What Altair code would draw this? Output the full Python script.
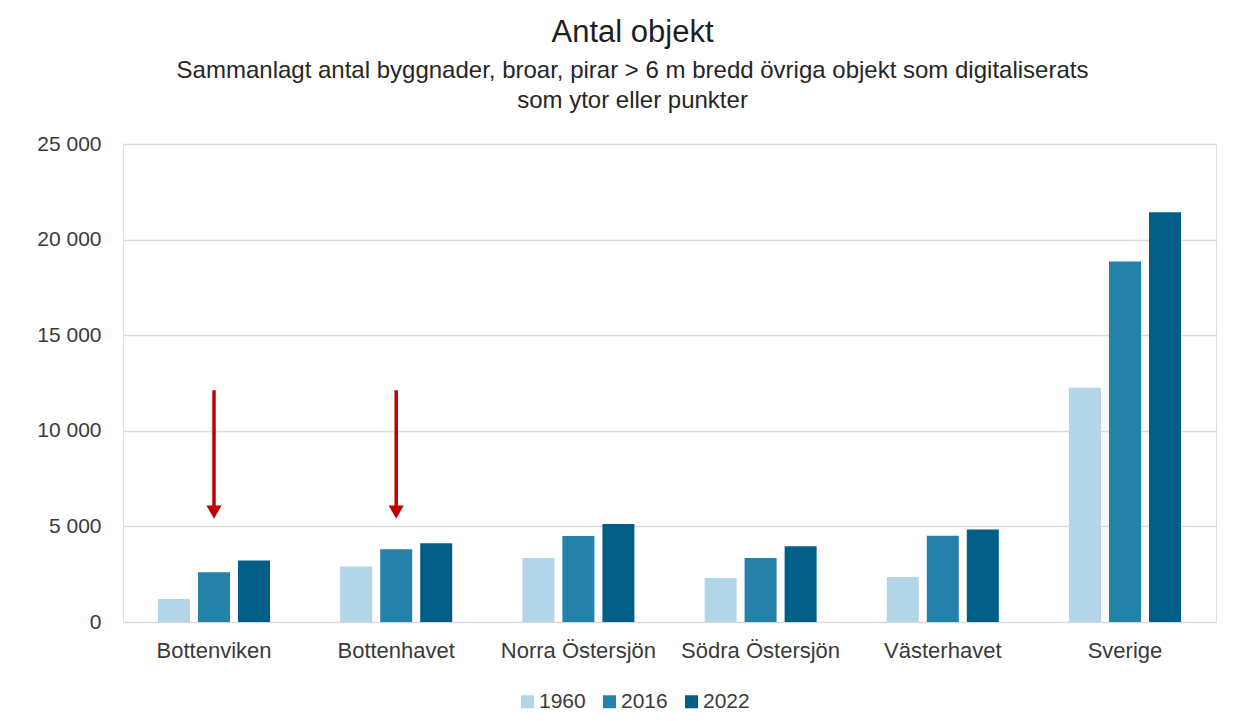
import altair as alt
import pandas as pd

categories = ["Bottenviken", "Bottenhavet", "Norra Östersjön", "Södra Östersjön", "Västerhavet", "Sverige"]
years = ["1960", "2016", "2022"]
v1960 = [1200, 2900, 3350, 2300, 2360, 12250]
v2016 = [2600, 3800, 4500, 3350, 4510, 18850]
v2022 = [3220, 4120, 5120, 3960, 4840, 21430]
colors = ["#b3d5e8", "#2381aa", "#015f87"]

arrow_cats = ["Bottenviken", "Bottenhavet"]
arrow_top = [12120, 12120]
arrow_shaft_end = [6000, 6000]
arrow_head = [5750, 5750]

rows = []
for i, c in enumerate(categories):
    for y, vals in zip(years, [v1960, v2016, v2022]):
        rows.append({"Område": c, "År": y, "Antal": vals[i]})
df = pd.DataFrame(rows)

arr = pd.DataFrame({"Område": arrow_cats, "År": ["2016"] * len(arrow_cats),
                    "top": arrow_top, "end": arrow_shaft_end, "head": arrow_head})

FONT = "Liberation Sans"
TXT = "#3a3a3a"

xenc = alt.X("Område:N", sort=categories, title=None,
             scale=alt.Scale(paddingInner=0.385, paddingOuter=0.192),
             axis=alt.Axis(labelAngle=0, labelFontSize=22, labelColor=TXT, labelFont=FONT,
                           labelPadding=18, ticks=False, domain=False, grid=False))
xoff = alt.XOffset("År:N", sort=years, scale=alt.Scale(paddingInner=0.2, paddingOuter=0))

bars = alt.Chart(df).mark_bar().encode(
    x=xenc,
    xOffset=xoff,
    y=alt.Y("Antal:Q", title=None,
            scale=alt.Scale(domain=[0, 25000], padding=0, nice=False, zero=True),
            axis=alt.Axis(values=[0, 5000, 10000, 15000, 20000, 25000],
                          labelExpr="replace(format(datum.value, ','), ',', ' ')",
                          labelFontSize=21, labelColor=TXT, labelFont=FONT,
                          labelPadding=22, ticks=False, domain=False,
                          gridColor="#d9d9d9", gridWidth=1.5)),
    color=alt.Color("År:N", sort=years, scale=alt.Scale(domain=years, range=colors),
                    legend=alt.Legend(title=None, orient="none", direction="horizontal",
                                      legendX=394, legendY=547, symbolType="square",
                                      symbolSize=169, symbolStrokeWidth=0, labelFontSize=21,
                                      labelFont=FONT, labelColor=TXT,
                                      columnPadding=13, labelOffset=1)),
)

shaft = alt.Chart(arr).mark_rule(color="#c00000", strokeWidth=3.5).encode(
    x=alt.X("Område:N", sort=categories),
    xOffset=alt.XOffset("År:N", sort=years),
    y="top:Q",
    y2="end:Q",
)
head = alt.Chart(arr).mark_point(shape="triangle-down", filled=True, color="#c00000",
                                 size=230, opacity=1).encode(
    x=alt.X("Område:N", sort=categories),
    xOffset=alt.XOffset("År:N", sort=years),
    y="head:Q",
)

chart = alt.layer(bars, shaft, head).properties(
    width=1093, height=478,
    padding={"left": 115, "top": 136, "right": 10, "bottom": 91},
    autosize=alt.AutoSizeParams(type="none"),
    title=alt.TitleParams(
        "Antal objekt",
        subtitle=["Sammanlagt antal byggnader, broar, pirar > 6 m bredd övriga objekt som digitaliserats",
                  "som ytor eller punkter"],
        anchor="middle", dx=-37, fontSize=31, font=FONT, fontWeight="normal", color="#1f1f1f",
        subtitleFontSize=24, subtitleFont=FONT, subtitleColor="#262626",
        subtitlePadding=10, subtitleLineHeight=30, offset=19,
    ),
).configure_view(stroke="#d9d9d9", strokeWidth=1.5).configure(background="white")

chart.save("out.html", embed_options={"renderer": "svg", "actions": False})
